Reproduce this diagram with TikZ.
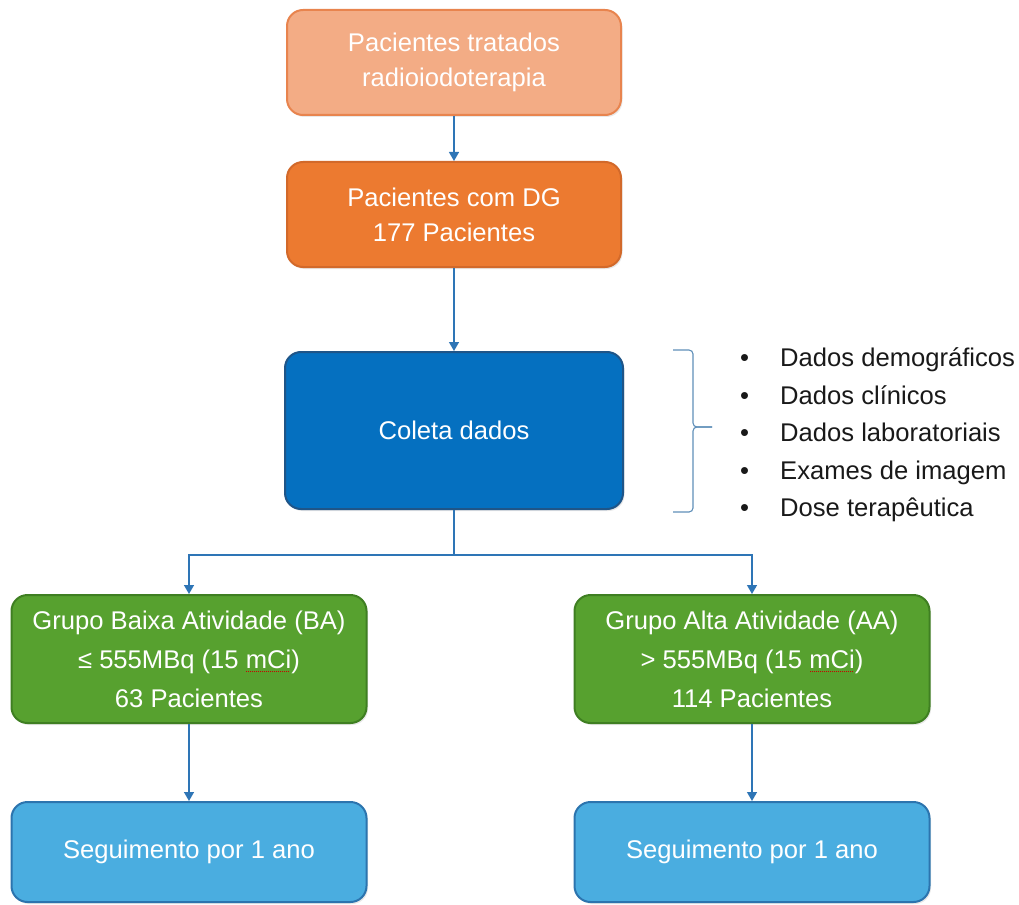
\documentclass[tikz,border=0pt]{standalone}
\usepackage{fontspec}
\setmainfont{Liberation Sans}
\usetikzlibrary{positioning,arrows.meta,shadows}
\definecolor{salmonfill}{HTML}{F3AC85}
\definecolor{salmonline}{HTML}{E8844E}
\definecolor{orangefill}{HTML}{EC7A30}
\definecolor{orangeline}{HTML}{D2692A}
\definecolor{bluefill}{HTML}{0570C0}
\definecolor{blueline}{HTML}{1F5588}
\definecolor{greenfill}{HTML}{57A12F}
\definecolor{greenline}{HTML}{3F7F22}
\definecolor{skyfill}{HTML}{4AADE0}
\definecolor{skyline}{HTML}{2C74AE}
\definecolor{arrowblue}{HTML}{2E75B6}
\definecolor{bracegray}{HTML}{5F8FB8}
\newcommand{\spellwave}[1]{\setbox0\hbox{#1}%
  \rlap{\color{red!80!black}\raisebox{-4pt}{\hbox to\wd0{\leaders\hbox to 2pt{\hss\rule{1pt}{1.2pt}\hss}\hfill}}}\box0}

\begin{document}
\begin{tikzpicture}[
  x=1pt, y=-1pt,
  node distance=45pt,
  box/.style={draw, line width=2pt, rounded corners=16pt, align=center, text=white, inner sep=0pt,
    font=\fontsize{25.6}{35}\selectfont,
    drop shadow={shadow xshift=1.5pt, shadow yshift=-2pt, opacity=0.18}},
  startbox/.style={box, fill=salmonfill, draw=salmonline, minimum width=334pt, minimum height=105pt},
  dgbox/.style={box, fill=orangefill, draw=orangeline, minimum width=334pt, minimum height=105pt},
  coletabox/.style={box, fill=bluefill, draw=blueline, minimum width=338pt, minimum height=157pt},
  groupbox/.style={box, fill=greenfill, draw=greenline, minimum width=355pt, minimum height=128pt,
    font=\fontsize{25.6}{39}\selectfont},
  followbox/.style={box, fill=skyfill, draw=skyline, minimum width=355pt, minimum height=100pt},
  arr/.style={-{Triangle[length=9pt, width=10pt]}, line width=1.4pt, draw=arrowblue},
  link/.style={line width=1.4pt, draw=arrowblue},
  brace/.style={line width=1.1pt, draw=bracegray, rounded corners=4pt},
  listtxt/.style={align=left, inner sep=0pt, text=black!90, font=\fontsize{25.6}{37.5}\selectfont}
]
\useasboundingbox (0,0) rectangle (1019,904);
\node[startbox] (trat) at (454,62.5) {Pacientes tratados\\radioiodoterapia};
\node[dgbox, below=of trat] (dg) {Pacientes com DG\\177 Pacientes};
\node[coletabox, below=83pt of dg] (coleta) {Coleta dados};
\coordinate[below=45pt of coleta] (split);
\node[groupbox] (ba) at (189,659) {Grupo Baixa Atividade (BA)\\≤ 555MBq (15 \spellwave{mCi})\\63 Pacientes};
\node[groupbox] (aa) at (752,659) {Grupo Alta Atividade (AA)\\> 555MBq (15 \spellwave{mCi})\\114 Pacientes};
\node[followbox, below=77pt of ba] (segba) {Seguimento por 1 ano};
\node[followbox, below=77pt of aa] (segaa) {Seguimento por 1 ano};
\node[listtxt, anchor=west] (lista) at (740,435) {%
  \makebox[40pt][l]{•}Dados demográficos\\
  \makebox[40pt][l]{•}Dados clínicos\\
  \makebox[40pt][l]{•}Dados laboratoriais\\
  \makebox[40pt][l]{•}Exames de imagem\\
  \makebox[40pt][l]{•}Dose terapêutica};
\draw[brace] (673,350) -| (693,427) -- (712,427);
\draw[brace] (712,427) -- (693,427) |- (673,512);
\draw[arr] (trat) -- (dg);
\draw[arr] (dg) -- (coleta);
\draw[link] (coleta) -- (split);
\draw[arr] (split) -| (ba);
\draw[arr] (split) -| (aa);
\draw[arr] (ba) -- (segba);
\draw[arr] (aa) -- (segaa);
\end{tikzpicture}
\end{document}
